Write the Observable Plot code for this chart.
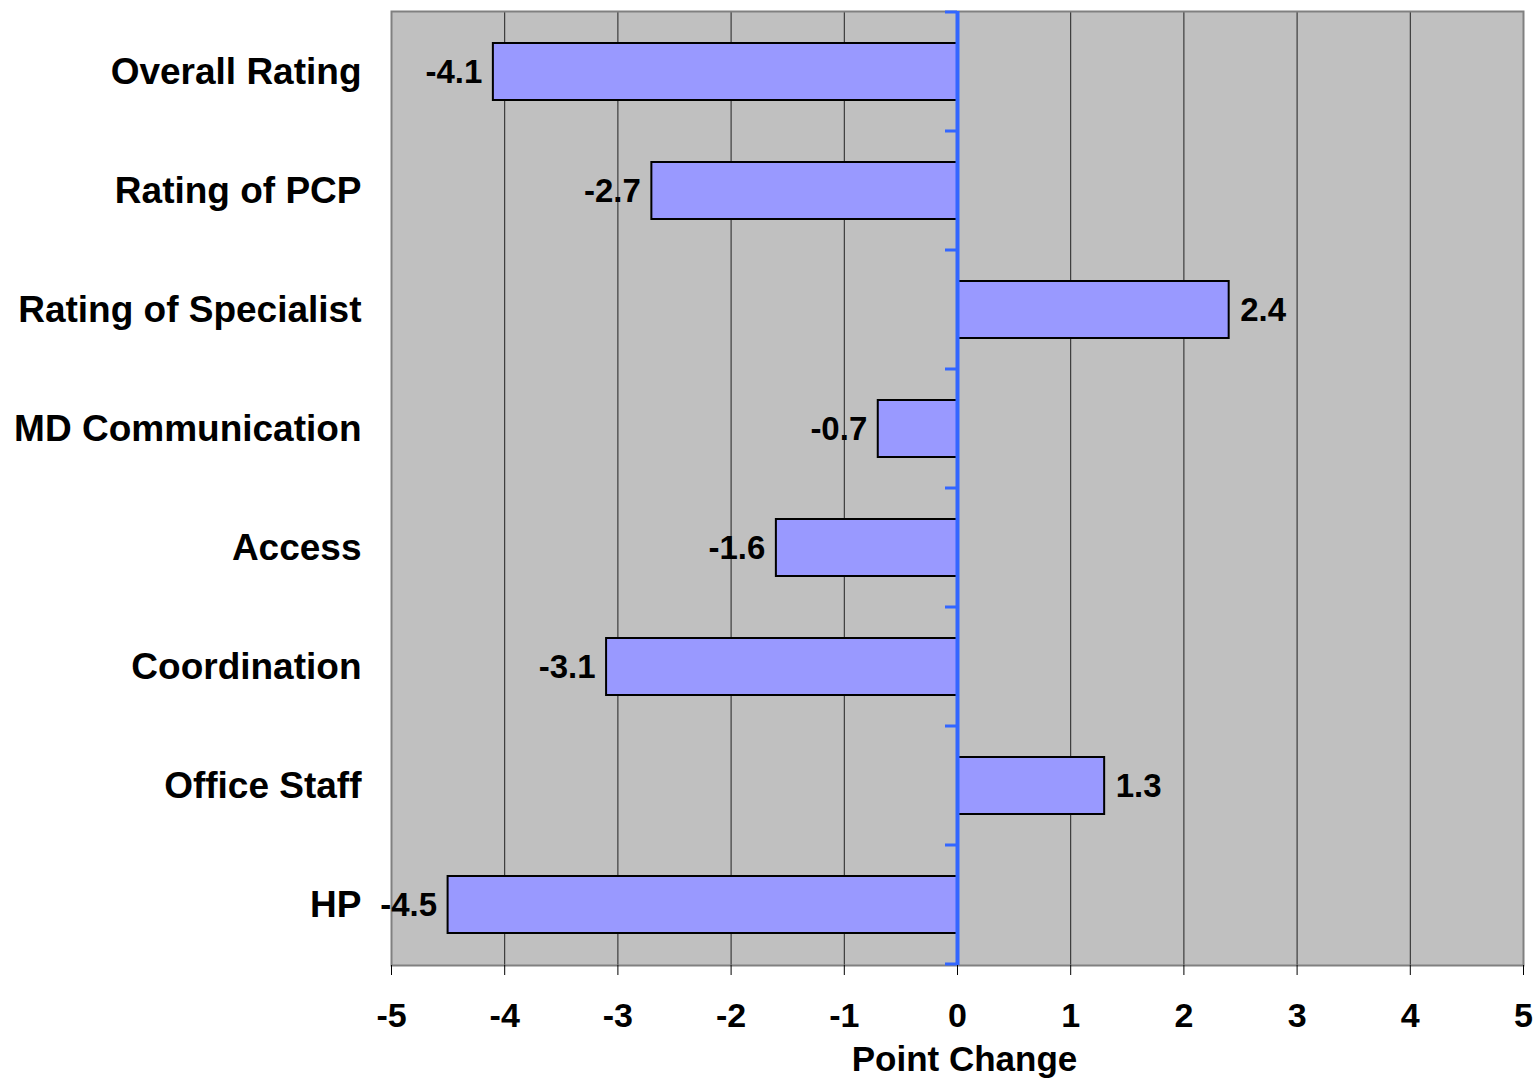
<!DOCTYPE html>
<html>
<head>
<meta charset="utf-8">
<script src="https://cdn.jsdelivr.net/npm/d3@7"></script>
<script src="https://cdn.jsdelivr.net/npm/@observablehq/plot@0.6"></script>
<style>
  html, body { margin: 0; padding: 0; background: #fff; }
  #chart svg { display: block; }
</style>
</head>
<body>
<div id="chart"></div>
<script>
const categories = ["Overall Rating", "Rating of PCP", "Rating of Specialist", "MD Communication", "Access", "Coordination", "Office Staff", "HP"];
const values = [-4.1, -2.7, 2.4, -0.7, -1.6, -3.1, 1.3, -4.5];
const xTicks = [-5, -4, -3, -2, -1, 0, 1, 2, 3, 4, 5];
const gridValues = [-4, -3, -2, -1, 1, 2, 3, 4];
const axisTitle = "Point Change";

const data = categories.map((c, i) => ({category: c, value: values[i]}));
const font = "'Liberation Sans', Arial, sans-serif";

// ticks at the category boundaries along the zero axis, drawn through the scales
function boundaryTicks(index, scales) {
  const y = scales.y, x = scales.x;
  const step = y(categories[1]) - y(categories[0]);
  const half = (step - y.bandwidth()) / 2;
  const g = d3.create("svg:g");
  const x0 = x(0);
  const boundaries = categories.map(c => y(c) - half);
  boundaries.push(y(categories[categories.length - 1]) + y.bandwidth() + half);
  for (const b of boundaries) {
    g.append("line")
      .attr("x1", x0 - 12).attr("x2", x0)
      .attr("y1", b).attr("y2", b)
      .attr("stroke", "#3366FF").attr("stroke-width", 3);
  }
  return g.node();
}

const chart = Plot.plot({
  width: 1533,
  height: 1081,
  marginLeft: 391,
  marginRight: 10,
  marginTop: 11,
  marginBottom: 116,
  style: {fontFamily: font, fontWeight: "bold", color: "#000", background: "#fff"},
  x: {domain: [-5, 5]},
  y: {domain: categories, paddingInner: 0.52, paddingOuter: 0.26},
  marks: [
    Plot.frame({fill: "#C0C0C0", stroke: "none"}),
    Plot.ruleX(gridValues, {stroke: "#222", strokeWidth: 1}),
    Plot.barX(data, {x: "value", y: "category", fill: "#9999FF", stroke: "#000", strokeWidth: 2}),
    Plot.frame({stroke: "#808080", strokeWidth: 2}),
    Plot.ruleX([0], {stroke: "#3366FF", strokeWidth: 4}),
    boundaryTicks,
    Plot.text(data.filter(d => d.value < 0), {x: "value", y: "category", text: d => d.value.toFixed(1), textAnchor: "end", dx: -11, fontSize: 33, fontWeight: "bold", fill: "#000"}),
    Plot.text(data.filter(d => d.value >= 0), {x: "value", y: "category", text: d => d.value.toFixed(1), textAnchor: "start", dx: 11, fontSize: 33, fontWeight: "bold", fill: "#000"}),
    Plot.axisX({ticks: xTicks, tickFormat: d => String(d), tickSize: 10, tickPadding: 27, fontSize: 34, fontWeight: "bold", label: null, stroke: "#000"}),
    Plot.axisY({tickSize: 0, tickPadding: 30, fontSize: 37, fontWeight: "bold", label: null}),
    Plot.text([axisTitle], {frameAnchor: "bottom", lineAnchor: "bottom", dy: 105, dx: 7, fontSize: 35, fontWeight: "bold", fill: "#000"})
  ]
});

document.getElementById("chart").appendChild(chart);
</script>
</body>
</html>
